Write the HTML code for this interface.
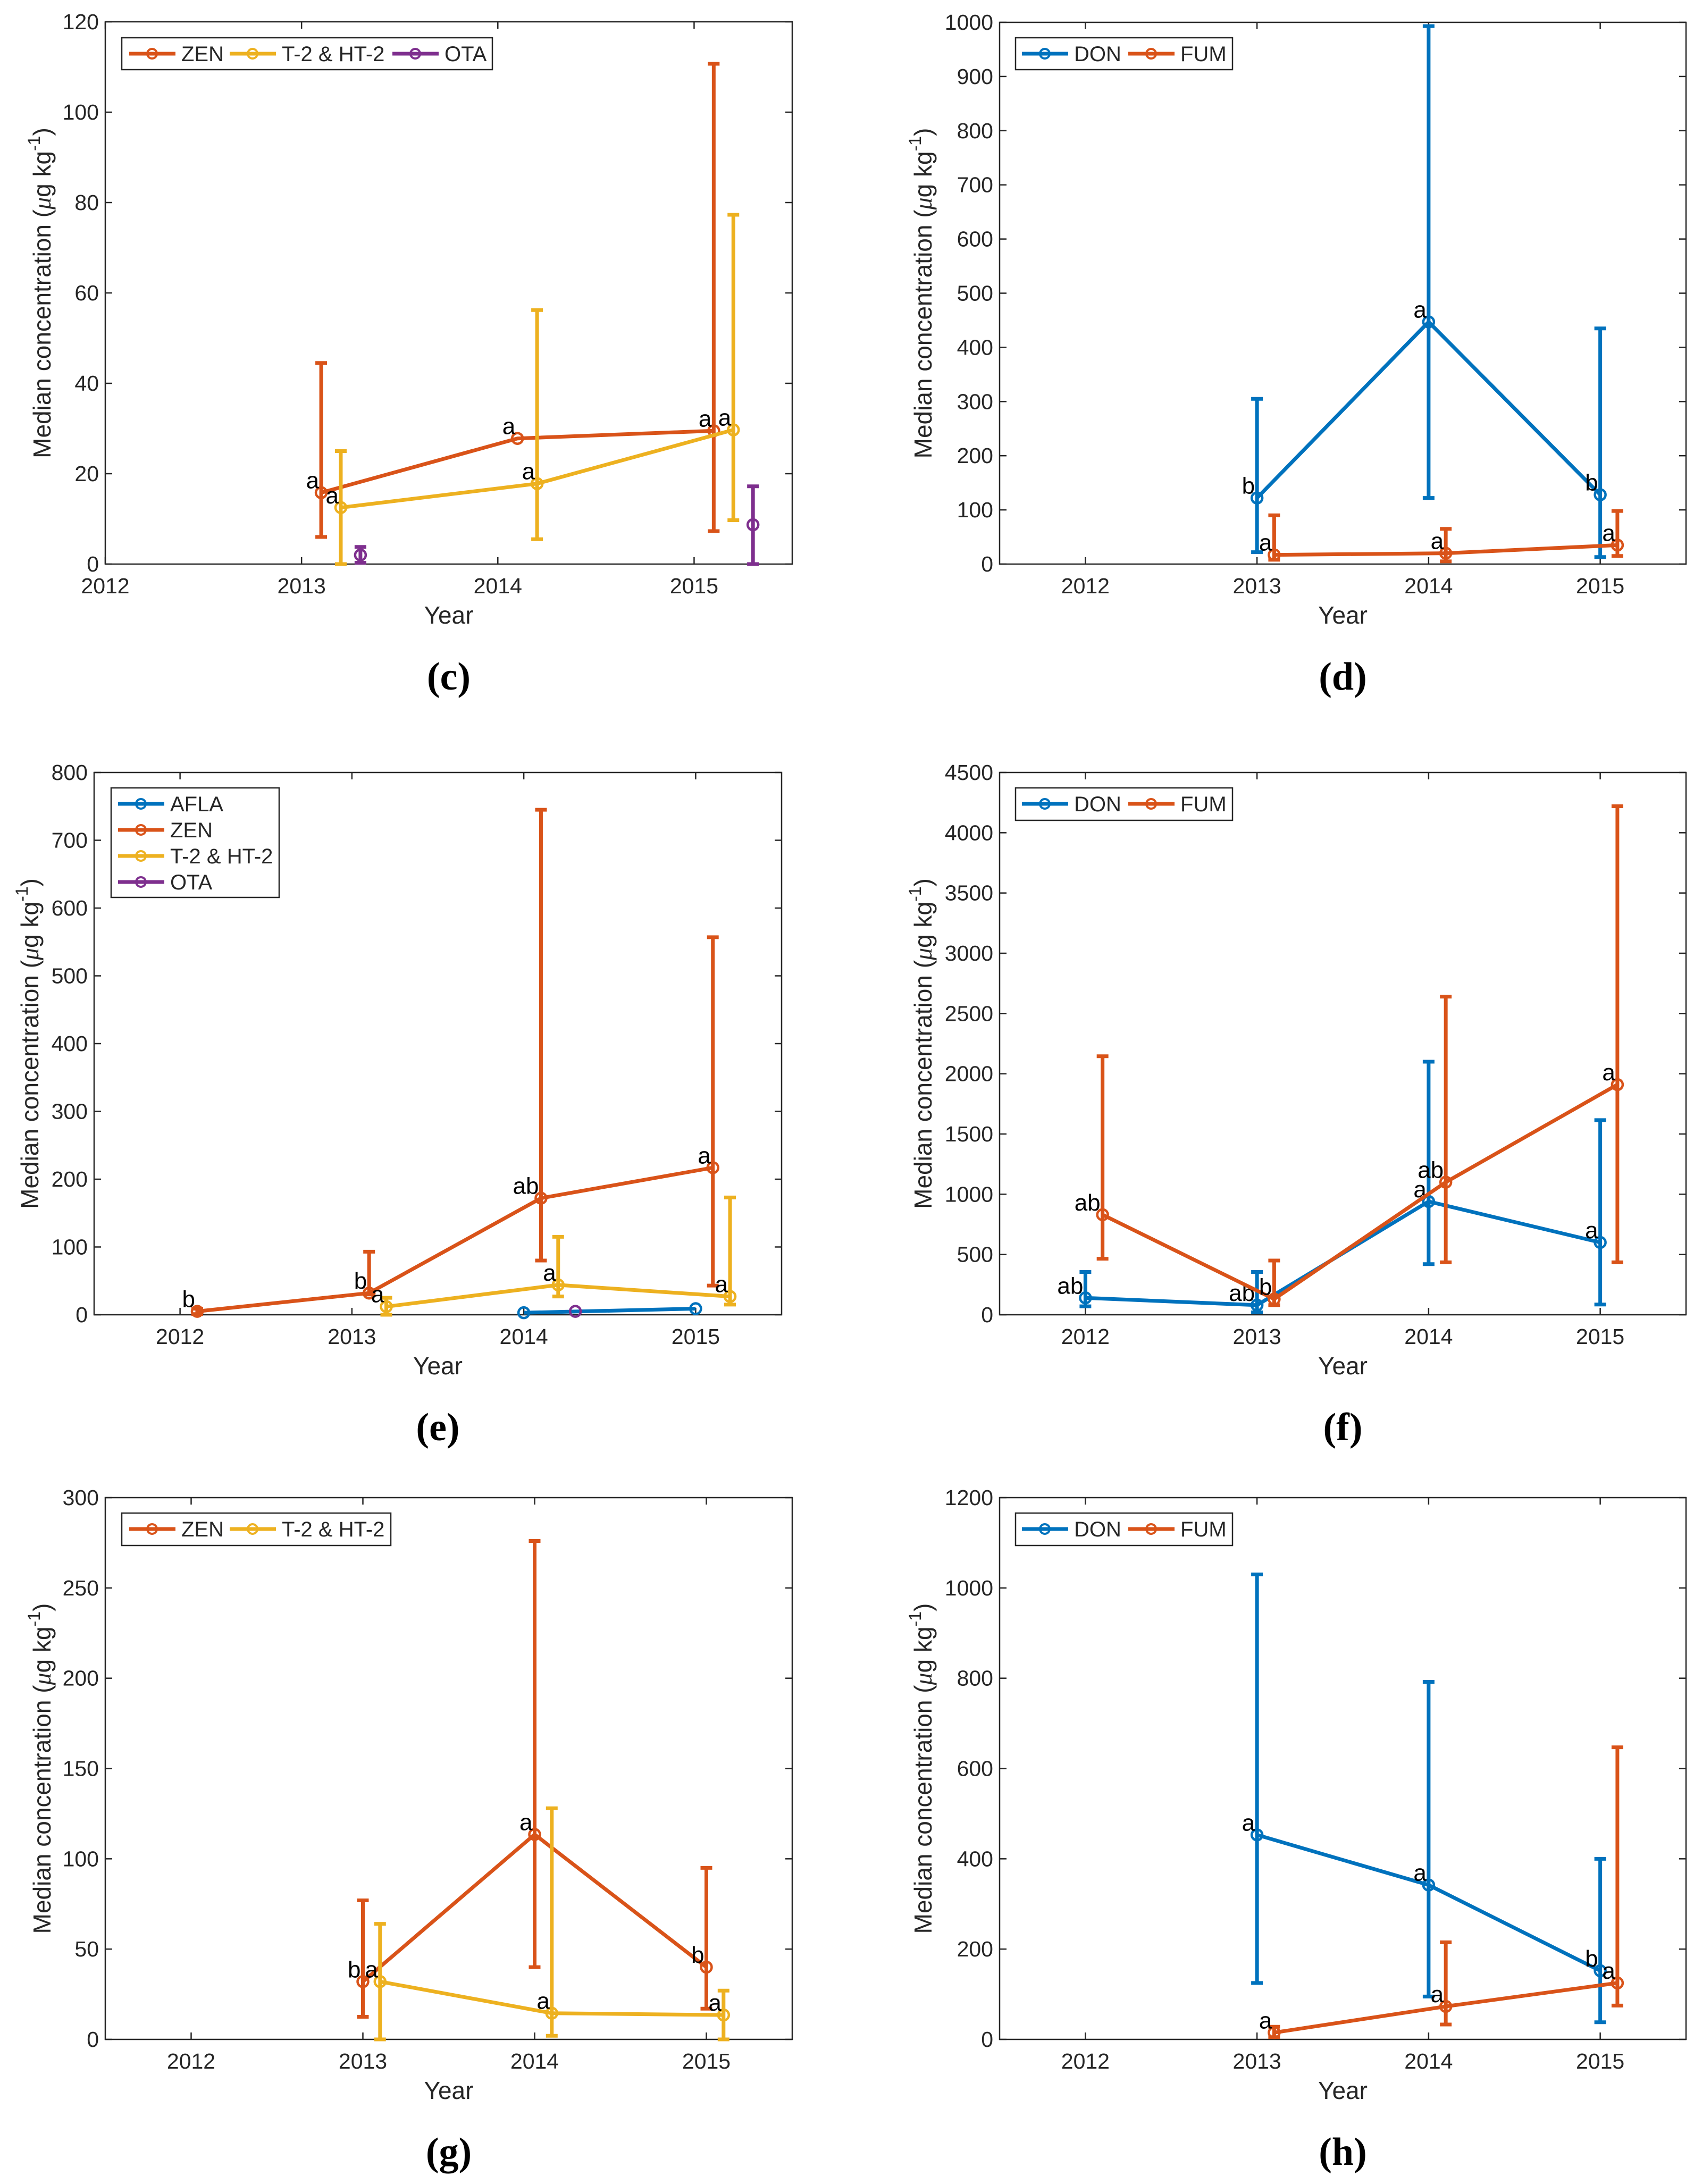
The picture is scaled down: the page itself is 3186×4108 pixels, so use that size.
<!DOCTYPE html>
<html><head><meta charset="utf-8"><style>
body{margin:0;background:#fff}
svg{display:block}
text{font-family:"Liberation Sans",sans-serif;fill:#262626}
</style></head><body>
<svg id="fig" width="3186" height="4108" viewBox="0 0 3186 4108" xmlns="http://www.w3.org/2000/svg"></svg>
<script>
// ---------- data: panel c ----------
const cZenX=[2013.1,2014.1,2015.1], cZenV=[15.8,27.8,29.5], cZenLo=[6,null,7.3], cZenHi=[44.5,null,110.7], cZenLab=['a','a','a'];
const cT2X=[2013.2,2014.2,2015.2], cT2V=[12.5,17.8,29.7], cT2Lo=[0,5.5,9.7], cT2Hi=[25,56.2,77.3], cT2Lab=['a','a','a'];
const cOtaX=[2013.3,2015.3], cOtaV=[2,8.7], cOtaLo=[0.3,0], cOtaHi=[3.8,17.2], cOtaLab=['',''];
const cYTicks=[0,20,40,60,80,100,120], cXTicks=[2012,2013,2014,2015];
// ---------- data: panel d ----------
const dDonX=[2013,2014,2015], dDonV=[122,447,128], dDonLo=[22,122,13], dDonHi=[305,993,435], dDonLab=['b','a','b'];
const dFumX=[2013.1,2014.1,2015.1], dFumV=[17,20,35], dFumLo=[8,5,15], dFumHi=[90,65,98], dFumLab=['a','a','a'];
const dYTicks=[0,100,200,300,400,500,600,700,800,900,1000], dXTicks=[2012,2013,2014,2015];
// ---------- data: panel e ----------
const eAflaX=[2014,2015], eAflaV=[3,9], eAflaLo=[null,null], eAflaHi=[null,null], eAflaLab=['',''];
const eZenX=[2012.1,2013.1,2014.1,2015.1], eZenV=[5,32,172,217], eZenLo=[1,30,80,43], eZenHi=[9,93,745,557], eZenLab=['b','b','ab','a'];
const eT2X=[2013.2,2014.2,2015.2], eT2V=[12,44,27], eT2Lo=[0,27,15], eT2Hi=[25,115,173], eT2Lab=['a','a','a'];
const eOtaX=[2014.3], eOtaV=[5], eOtaLo=[null], eOtaHi=[null], eOtaLab=[''];
const eYTicks=[0,100,200,300,400,500,600,700,800], eXTicks=[2012,2013,2014,2015];
// ---------- data: panel f ----------
const fDonX=[2012,2013,2014,2015], fDonV=[140,80,940,600], fDonLo=[70,20,420,85], fDonHi=[355,355,2100,1615], fDonLab=['ab','ab','a','a'];
const fFumX=[2012.1,2013.1,2014.1,2015.1], fFumV=[830,130,1100,1910], fFumLo=[465,80,435,435], fFumHi=[2145,450,2640,4220], fFumLab=['ab','b','ab','a'];
const fYTicks=[0,500,1000,1500,2000,2500,3000,3500,4000,4500], fXTicks=[2012,2013,2014,2015];
// ---------- data: panel g ----------
const gZenX=[2013,2014,2015], gZenV=[32,113.5,40], gZenLo=[12.5,40,17], gZenHi=[77,276,95], gZenLab=['b','a','b'];
const gT2X=[2013.1,2014.1,2015.1], gT2V=[32,14.5,13.5], gT2Lo=[0,2,0], gT2Hi=[64,128,27], gT2Lab=['a','a','a'];
const gYTicks=[0,50,100,150,200,250,300], gXTicks=[2012,2013,2014,2015];
// ---------- data: panel h ----------
const hDonX=[2013,2014,2015], hDonV=[453,342,152], hDonLo=[125,95,38], hDonHi=[1030,792,400], hDonLab=['a','a','b'];
const hFumX=[2013.1,2014.1,2015.1], hFumV=[15,73,125], hFumLo=[5,33,75], hFumHi=[28,215,647], hFumLab=['a','a','a'];
const hYTicks=[0,200,400,600,800,1000,1200], hXTicks=[2012,2013,2014,2015];

const BLUE='#0072BD', ORANGE='#D95319', YELLOW='#EDB120', PURPLE='#7E2F8E';
const NS='http://www.w3.org/2000/svg';
const svg=document.getElementById('fig');
function mk(tag,attrs,parent,txt){const e=document.createElementNS(NS,tag);for(const k in attrs)e.setAttribute(k,attrs[k]);if(txt!==undefined)e.textContent=txt;(parent||svg).appendChild(e);return e;}

function panel(p){
  const g=mk('g',{});
  
  
  const sx=v=>p.L+(v-p.x0)/(p.x1-p.x0)*(p.R-p.L);
  const sy=v=>p.B-(v/p.ymax)*(p.B-p.T);
  const bg=mk('rect',{x:p.L,y:p.T,width:p.R-p.L,height:p.B-p.T,fill:'#fff',stroke:'none'},g);
  
  
  p.yticks.forEach(v=>{
    const y=sy(v);
    mk('line',{x1:p.L,x2:p.L+13,y1:y,y2:y,stroke:'#262626','stroke-width':2.5},g);
    mk('line',{x1:p.R,x2:p.R-13,y1:y,y2:y,stroke:'#262626','stroke-width':2.5},g);
    const t=mk('text',{x:p.L-12,y:y+14,'text-anchor':'end','font-size':41},g,String(v));
    
    
  });
  p.xticks.forEach(v=>{
    const x=sx(v);
    mk('line',{x1:x,x2:x,y1:p.B,y2:p.B-13,stroke:'#262626','stroke-width':2.5},g);
    mk('line',{x1:x,x2:x,y1:p.T,y2:p.T+13,stroke:'#262626','stroke-width':2.5},g);
    const t=mk('text',{x:x,y:p.B+55,'text-anchor':'middle','font-size':41},g,String(v));
    
    
  });
  const box=mk('rect',{x:p.L,y:p.T,width:p.R-p.L,height:p.B-p.T,fill:'none',stroke:'#262626','stroke-width':2.5},g);
  
  
  const xt=mk('text',{x:(p.L+p.R)/2,y:p.B+112,'text-anchor':'middle','font-size':46},g,'Year');
  
  
  const cy=(p.T+p.B)/2;
  const yt=mk('text',{x:0,y:0,'text-anchor':'middle','font-size':46,transform:`translate(${p.ylx},${cy}) rotate(-90)`},g);
  
  
  mk('tspan',{},yt,'Median concentration (');
  mk('tspan',{'font-style':'italic','font-family':'Liberation Serif, serif'},yt,'μ');
  mk('tspan',{},yt,'g kg');
  mk('tspan',{dy:-20,'font-size':32},yt,'-1');
  mk('tspan',{dy:20},yt,')');
  p.series.forEach(s=>{
    const sg=mk('g',{},g);
    
    
    s.x.forEach((xv,i)=>{
      if(s.lo[i]==null)return;
      const x=sx(xv),y1=sy(s.lo[i]),y2=sy(s.hi[i]);
      const eb=mk('path',{d:`M${x},${y1}V${y2}M${x-11},${y1}H${x+11}M${x-11},${y2}H${x+11}`,stroke:s.color,'stroke-width':7,fill:'none'},sg);
      
      
    });
    if(!s.noLine){
      const pts=s.x.map((xv,i)=>sx(xv)+','+sy(s.v[i])).join(' ');
      const pl=mk('polyline',{points:pts,fill:'none',stroke:s.color,'stroke-width':7,'stroke-linejoin':'round'},sg);
      
      
    }
    s.x.forEach((xv,i)=>{
      const c=mk('circle',{cx:sx(xv),cy:sy(s.v[i]),r:10,fill:'none',stroke:s.color,'stroke-width':4.5},sg);
      
      
      if(s.lab[i]){
        const t=mk('text',{x:sx(xv)-4,y:sy(s.v[i])-8,'text-anchor':'end','font-size':44,style:'fill:#000'},sg,s.lab[i]);
        
        
      }
    });
  });
  const lg=mk('g',{},g);
  
  
  const lb=mk('rect',{x:p.leg.x,y:p.leg.y,width:p.leg.w,height:p.leg.h,fill:'#fff',stroke:'#262626','stroke-width':2.5},lg);
  
  
  p.series.forEach((s,i)=>{
    const pos=p.leg.pos[i];
    const eg=mk('g',{},lg);
    
    
    mk('line',{x1:pos[0],x2:pos[0]+87,y1:pos[1],y2:pos[1],stroke:s.color,'stroke-width':7},eg);
    mk('circle',{cx:pos[0]+43,cy:pos[1],r:9,fill:'none',stroke:s.color,'stroke-width':4},eg);
    mk('text',{x:pos[0]+98,y:pos[1]+14,'font-size':40},eg,s.name);
  });
  const pl=mk('text',{x:(p.L+p.R)/2,y:p.B+236,'text-anchor':'middle','font-size':74,'font-weight':'bold',style:'font-family:"Liberation Serif",serif;fill:#000'},g,'('+p.id+')');
  
  
}

const LX=198, LXe=177, RXl=1490, RXe=1470, LR=1880, RR=3171;
panel({id:'c',L:LX,R:RXl,T:41,B:1061,x0:2012,x1:2015.5,ymax:120,yticks:cYTicks,xticks:cXTicks,ylx:95,
  series:[{name:'ZEN',color:ORANGE,x:cZenX,v:cZenV,lo:cZenLo,hi:cZenHi,lab:cZenLab},
          {name:'T-2 & HT-2',color:YELLOW,x:cT2X,v:cT2V,lo:cT2Lo,hi:cT2Hi,lab:cT2Lab},
          {name:'OTA',color:PURPLE,x:cOtaX,v:cOtaV,lo:cOtaLo,hi:cOtaHi,lab:cOtaLab,noLine:true}],
  leg:{x:229,y:71,w:697,h:60,pos:[[243,101],[432,101],[738,101]]}});
panel({id:'d',L:LR,R:RR,T:42,B:1061,x0:2011.5,x1:2015.5,ymax:1000,yticks:dYTicks,xticks:dXTicks,ylx:1752,
  series:[{name:'DON',color:BLUE,x:dDonX,v:dDonV,lo:dDonLo,hi:dDonHi,lab:dDonLab},
          {name:'FUM',color:ORANGE,x:dFumX,v:dFumV,lo:dFumLo,hi:dFumHi,lab:dFumLab}],
  leg:{x:1910,y:71,w:408,h:60,pos:[[1922,101],[2122,101]]}});
panel({id:'e',L:LXe,R:RXe,T:1453,B:2473,x0:2011.5,x1:2015.5,ymax:800,yticks:eYTicks,xticks:eXTicks,ylx:72,
  series:[{name:'AFLA',color:BLUE,x:eAflaX,v:eAflaV,lo:eAflaLo,hi:eAflaHi,lab:eAflaLab},
          {name:'ZEN',color:ORANGE,x:eZenX,v:eZenV,lo:eZenLo,hi:eZenHi,lab:eZenLab},
          {name:'T-2 & HT-2',color:YELLOW,x:eT2X,v:eT2V,lo:eT2Lo,hi:eT2Hi,lab:eT2Lab},
          {name:'OTA',color:PURPLE,x:eOtaX,v:eOtaV,lo:eOtaLo,hi:eOtaHi,lab:eOtaLab}],
  leg:{x:209,y:1482,w:316,h:206,pos:[[222,1512],[222,1561],[222,1610],[222,1659]]}});
panel({id:'f',L:LR,R:RR,T:1453,B:2473,x0:2011.5,x1:2015.5,ymax:4500,yticks:fYTicks,xticks:fXTicks,ylx:1752,
  series:[{name:'DON',color:BLUE,x:fDonX,v:fDonV,lo:fDonLo,hi:fDonHi,lab:fDonLab},
          {name:'FUM',color:ORANGE,x:fFumX,v:fFumV,lo:fFumLo,hi:fFumHi,lab:fFumLab}],
  leg:{x:1910,y:1482,w:408,h:61,pos:[[1922,1512],[2122,1512]]}});
panel({id:'g',L:LX,R:RXl,T:2817,B:3836,x0:2011.5,x1:2015.5,ymax:300,yticks:gYTicks,xticks:gXTicks,ylx:95,
  series:[{name:'ZEN',color:ORANGE,x:gZenX,v:gZenV,lo:gZenLo,hi:gZenHi,lab:gZenLab},
          {name:'T-2 & HT-2',color:YELLOW,x:gT2X,v:gT2V,lo:gT2Lo,hi:gT2Hi,lab:gT2Lab}],
  leg:{x:229,y:2846,w:506,h:61,pos:[[243,2876],[432,2876]]}});
panel({id:'h',L:LR,R:RR,T:2817,B:3836,x0:2011.5,x1:2015.5,ymax:1200,yticks:hYTicks,xticks:hXTicks,ylx:1752,
  series:[{name:'DON',color:BLUE,x:hDonX,v:hDonV,lo:hDonLo,hi:hDonHi,lab:hDonLab},
          {name:'FUM',color:ORANGE,x:hFumX,v:hFumV,lo:hFumLo,hi:hFumHi,lab:hFumLab}],
  leg:{x:1910,y:2846,w:408,h:61,pos:[[1922,2876],[2122,2876]]}});
</script>
</body></html>
